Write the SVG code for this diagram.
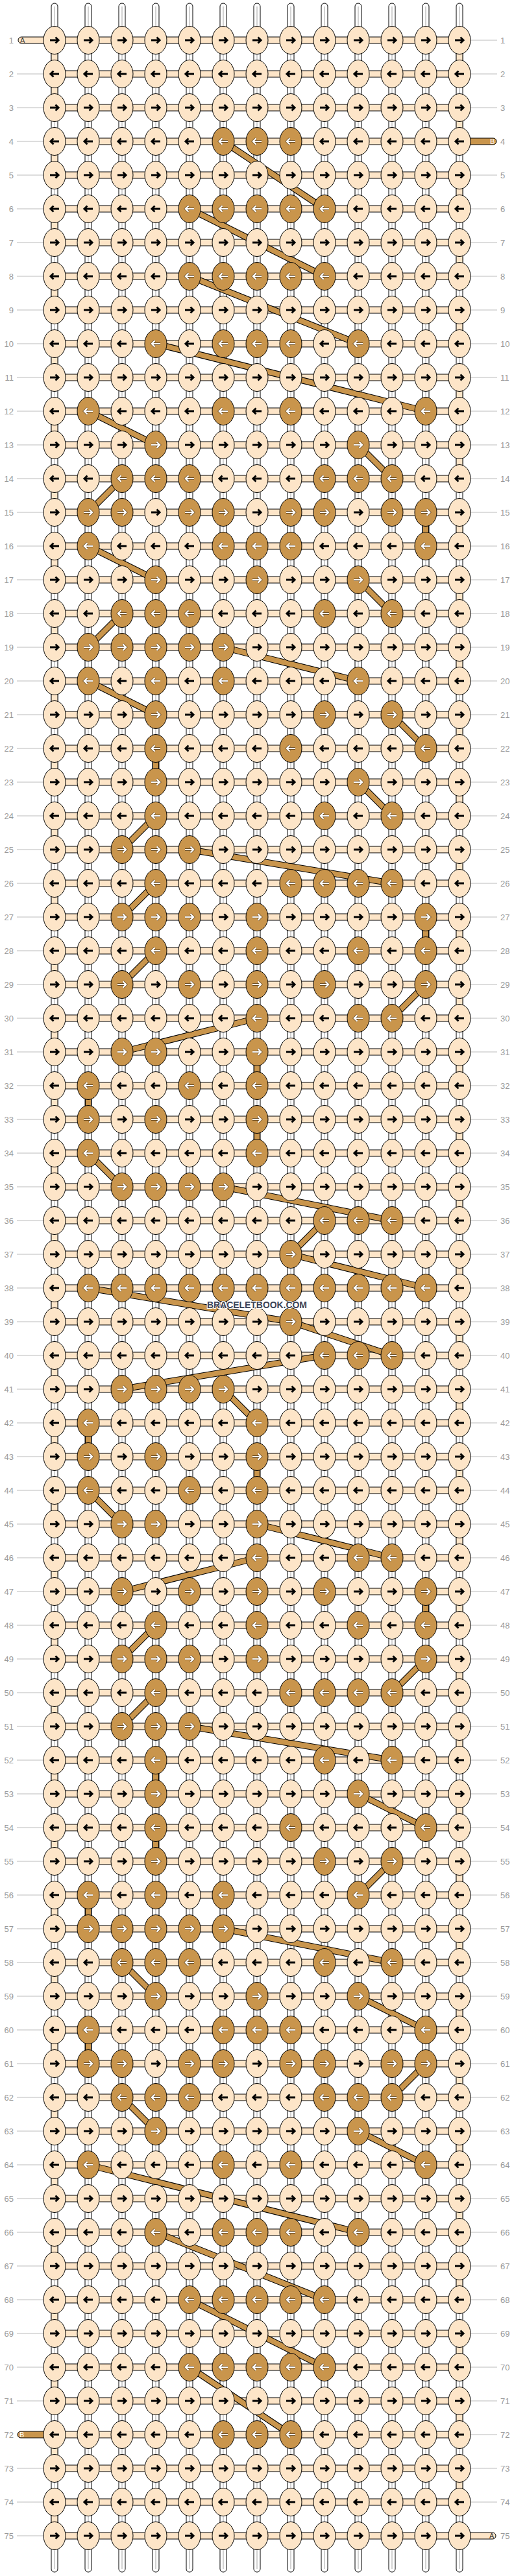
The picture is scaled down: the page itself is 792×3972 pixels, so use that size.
<svg xmlns="http://www.w3.org/2000/svg" xmlns:xlink="http://www.w3.org/1999/xlink" width="792" height="3972" viewBox="0 0 792 3972">
<style>
.L{fill:#fde5c8;stroke:#000;stroke-width:1}
.D{fill:#c9954c;stroke:#000;stroke-width:1}
.k{fill:none;stroke:#000;stroke-width:2.8}
.o{fill:none;stroke:#6e4f24;stroke-width:3.8}
.w{fill:none;stroke:#fff;stroke-width:2.2}
.g{fill:none;stroke:#bbb;stroke-width:1}
.st{fill:#fff;stroke:#000;stroke-width:1}
.sc{fill:none;stroke:#c4c4c4;stroke-width:1.5}
.pe{fill:#fde5c8;stroke:#000;stroke-width:1}
.tn{fill:#c9954c;stroke:#000;stroke-width:1}
.cb{fill:none;stroke:#000;stroke-width:10}
.ct{fill:none;stroke:#c9954c;stroke-width:8}
text{font-family:"Liberation Sans",Arial,sans-serif}
.le{font-size:13px;fill:#999;text-anchor:end}
.ls{font-size:13px;fill:#999}
.tl{font-size:11px}
</style>
<defs>
<g id="a"><ellipse class="L" rx="17" ry="21.5"/><path class="k" d="M-7,0H6M1.5,-4.6L6.2,0L1.5,4.6"/></g>
<g id="b"><ellipse class="L" rx="17" ry="21.5"/><path class="k" d="M7,0H-6M-1.5,-4.6L-6.2,0L-1.5,4.6"/></g>
<g id="c"><ellipse class="D" rx="17" ry="21.5"/><path class="o" d="M-7,0H6M1.5,-4.6L6.2,0L1.5,4.6"/><path class="w" d="M-7,0H6M1.5,-4.6L6.2,0L1.5,4.6"/></g>
<g id="d"><ellipse class="D" rx="17" ry="21.5"/><path class="o" d="M7,0H-6M-1.5,-4.6L-6.2,0L-1.5,4.6"/><path class="w" d="M7,0H-6M-1.5,-4.6L-6.2,0L-1.5,4.6"/></g>
<path id="cp" d="M344,218L500,322M292,322L500,426M292,426L552,530M240,530L656,634M136,634L240,686M552,686L604,738M188,738L136,790M656,790L656,842M136,842L240,894M552,894L604,946M188,946L136,998M344,998L552,1050M136,1050L240,1102M604,1102L656,1154M240,1154L240,1206M552,1206L604,1258M240,1258L188,1310M292,1310L604,1362M240,1362L188,1414M656,1414L656,1466M240,1466L188,1518M656,1518L604,1570M396,1570L188,1622M396,1622L396,1674M136,1674L136,1726M396,1726L396,1778M136,1778L188,1830M344,1830L604,1882M500,1882L448,1934M448,1934L656,1986M136,1986L448,2038M448,2038L604,2090M500,2090L188,2142M344,2142L396,2194M136,2194L136,2246M396,2246L396,2298M136,2298L188,2350M396,2350L604,2402M396,2402L188,2454M656,2454L656,2506M240,2506L188,2558M656,2558L604,2610M240,2610L188,2662M292,2662L604,2714M240,2714L240,2766M552,2766L656,2818M240,2818L240,2870M604,2870L552,2922M136,2922L136,2974M344,2974L604,3026M188,3026L240,3078M552,3078L656,3130M136,3130L136,3182M656,3182L604,3234M188,3234L240,3286M552,3286L656,3338M136,3338L552,3442M240,3442L500,3546M292,3546L500,3650M292,3650L448,3754"/>
</defs>
<rect width="792" height="3972" fill="#fff"/>
<g id="strands">
<rect class="st" x="79" y="5" width="10" height="3961" rx="5"/><rect class="st" x="131" y="5" width="10" height="3961" rx="5"/><rect class="st" x="183" y="5" width="10" height="3961" rx="5"/><rect class="st" x="235" y="5" width="10" height="3961" rx="5"/><rect class="st" x="287" y="5" width="10" height="3961" rx="5"/><rect class="st" x="339" y="5" width="10" height="3961" rx="5"/><rect class="st" x="391" y="5" width="10" height="3961" rx="5"/><rect class="st" x="443" y="5" width="10" height="3961" rx="5"/><rect class="st" x="495" y="5" width="10" height="3961" rx="5"/><rect class="st" x="547" y="5" width="10" height="3961" rx="5"/><rect class="st" x="599" y="5" width="10" height="3961" rx="5"/><rect class="st" x="651" y="5" width="10" height="3961" rx="5"/><rect class="st" x="703" y="5" width="10" height="3961" rx="5"/>
<path class="sc" d="M84,10V3961M136,10V3961M188,10V3961M240,10V3961M292,10V3961M344,10V3961M396,10V3961M448,10V3961M500,10V3961M552,10V3961M604,10V3961M656,10V3961M708,10V3961"/>
<path class="pe" d="M79,80h10v16h-10zM79,132h10v16h-10zM79,236h10v16h-10zM79,340h10v16h-10zM79,444h10v16h-10zM79,548h10v16h-10zM79,652h10v16h-10zM79,756h10v16h-10zM79,860h10v16h-10zM79,964h10v16h-10zM79,1068h10v16h-10zM79,1172h10v16h-10zM79,1276h10v16h-10zM79,1380h10v16h-10zM79,1484h10v16h-10zM79,1588h10v16h-10zM79,1692h10v16h-10zM79,1796h10v16h-10zM79,1900h10v16h-10zM79,2004h10v16h-10zM79,2108h10v16h-10zM79,2212h10v16h-10zM79,2316h10v16h-10zM79,2420h10v16h-10zM79,2524h10v16h-10zM79,2628h10v16h-10zM79,2732h10v16h-10zM79,2836h10v16h-10zM79,2940h10v16h-10zM79,3044h10v16h-10zM79,3148h10v16h-10zM79,3252h10v16h-10zM79,3356h10v16h-10zM79,3460h10v16h-10zM79,3564h10v16h-10zM79,3668h10v16h-10zM79,3772h10v16h-10zM79,3876h10v16h-10zM703,80h10v16h-10zM703,184h10v16h-10zM703,288h10v16h-10zM703,392h10v16h-10zM703,496h10v16h-10zM703,600h10v16h-10zM703,704h10v16h-10zM703,808h10v16h-10zM703,912h10v16h-10zM703,1016h10v16h-10zM703,1120h10v16h-10zM703,1224h10v16h-10zM703,1328h10v16h-10zM703,1432h10v16h-10zM703,1536h10v16h-10zM703,1640h10v16h-10zM703,1744h10v16h-10zM703,1848h10v16h-10zM703,1952h10v16h-10zM703,2056h10v16h-10zM703,2160h10v16h-10zM703,2264h10v16h-10zM703,2368h10v16h-10zM703,2472h10v16h-10zM703,2576h10v16h-10zM703,2680h10v16h-10zM703,2784h10v16h-10zM703,2888h10v16h-10zM703,2992h10v16h-10zM703,3096h10v16h-10zM703,3200h10v16h-10zM703,3304h10v16h-10zM703,3408h10v16h-10zM703,3512h10v16h-10zM703,3616h10v16h-10zM703,3720h10v16h-10zM703,3824h10v16h-10z"/>
<path class="pe" d="M84,57h624v10h-624zM84,109h624v10h-624zM84,161h624v10h-624zM84,213h624v10h-624zM84,265h624v10h-624zM84,317h624v10h-624zM84,369h624v10h-624zM84,421h624v10h-624zM84,473h624v10h-624zM84,525h624v10h-624zM84,577h624v10h-624zM84,629h624v10h-624zM84,681h624v10h-624zM84,733h624v10h-624zM84,785h624v10h-624zM84,837h624v10h-624zM84,889h624v10h-624zM84,941h624v10h-624zM84,993h624v10h-624zM84,1045h624v10h-624zM84,1097h624v10h-624zM84,1149h624v10h-624zM84,1201h624v10h-624zM84,1253h624v10h-624zM84,1305h624v10h-624zM84,1357h624v10h-624zM84,1409h624v10h-624zM84,1461h624v10h-624zM84,1513h624v10h-624zM84,1565h624v10h-624zM84,1617h624v10h-624zM84,1669h624v10h-624zM84,1721h624v10h-624zM84,1773h624v10h-624zM84,1825h624v10h-624zM84,1877h624v10h-624zM84,1929h624v10h-624zM84,1981h624v10h-624zM84,2033h624v10h-624zM84,2085h624v10h-624zM84,2137h624v10h-624zM84,2189h624v10h-624zM84,2241h624v10h-624zM84,2293h624v10h-624zM84,2345h624v10h-624zM84,2397h624v10h-624zM84,2449h624v10h-624zM84,2501h624v10h-624zM84,2553h624v10h-624zM84,2605h624v10h-624zM84,2657h624v10h-624zM84,2709h624v10h-624zM84,2761h624v10h-624zM84,2813h624v10h-624zM84,2865h624v10h-624zM84,2917h624v10h-624zM84,2969h624v10h-624zM84,3021h624v10h-624zM84,3073h624v10h-624zM84,3125h624v10h-624zM84,3177h624v10h-624zM84,3229h624v10h-624zM84,3281h624v10h-624zM84,3333h624v10h-624zM84,3385h624v10h-624zM84,3437h624v10h-624zM84,3489h624v10h-624zM84,3541h624v10h-624zM84,3593h624v10h-624zM84,3645h624v10h-624zM84,3697h624v10h-624zM84,3749h624v10h-624zM84,3801h624v10h-624zM84,3853h624v10h-624zM84,3905h624v10h-624z"/>
</g>
<g id="tails">
<rect class="pe" x="28" y="57" width="60" height="10" rx="5"/><text class="tl" x="31" y="66" fill="#333">A</text>
<rect class="tn" x="704" y="213" width="61" height="10" rx="5"/><text class="tl" x="755" y="222" fill="#fff">B</text>
<rect class="tn" x="27" y="3749" width="60" height="10" rx="5"/><text class="tl" x="30" y="3758" fill="#fff">B</text>
<rect class="pe" x="704" y="3905" width="60" height="10" rx="5"/><text class="tl" x="754" y="3914" fill="#333">A</text>
</g>
<g id="connectors"><use href="#cp" class="cb"/><use href="#cp" class="ct"/></g>
<g id="rows">
<g id="r1" transform="translate(0,62)"><path class="g" d="M725,0H766"/><text class="le" x="21" y="4.5">1</text><text class="ls" x="771" y="4.5">1</text><g id="n1-1"><use href="#a" x="84"/></g><g id="n1-2"><use href="#a" x="136"/></g><g id="n1-3"><use href="#a" x="188"/></g><g id="n1-4"><use href="#a" x="240"/></g><g id="n1-5"><use href="#a" x="292"/></g><g id="n1-6"><use href="#a" x="344"/></g><g id="n1-7"><use href="#a" x="396"/></g><g id="n1-8"><use href="#a" x="448"/></g><g id="n1-9"><use href="#a" x="500"/></g><g id="n1-10"><use href="#a" x="552"/></g><g id="n1-11"><use href="#a" x="604"/></g><g id="n1-12"><use href="#a" x="656"/></g><g id="n1-13"><use href="#a" x="708"/></g></g>
<g id="r2" transform="translate(0,114)"><path class="g" d="M26,0H67M725,0H766"/><text class="le" x="21" y="4.5">2</text><text class="ls" x="771" y="4.5">2</text><g id="n2-1"><use href="#b" x="84"/></g><g id="n2-2"><use href="#b" x="136"/></g><g id="n2-3"><use href="#b" x="188"/></g><g id="n2-4"><use href="#b" x="240"/></g><g id="n2-5"><use href="#b" x="292"/></g><g id="n2-6"><use href="#b" x="344"/></g><g id="n2-7"><use href="#b" x="396"/></g><g id="n2-8"><use href="#b" x="448"/></g><g id="n2-9"><use href="#b" x="500"/></g><g id="n2-10"><use href="#b" x="552"/></g><g id="n2-11"><use href="#b" x="604"/></g><g id="n2-12"><use href="#b" x="656"/></g><g id="n2-13"><use href="#b" x="708"/></g></g>
<g id="r3" transform="translate(0,166)"><path class="g" d="M26,0H67M725,0H766"/><text class="le" x="21" y="4.5">3</text><text class="ls" x="771" y="4.5">3</text><g id="n3-1"><use href="#a" x="84"/></g><g id="n3-2"><use href="#a" x="136"/></g><g id="n3-3"><use href="#a" x="188"/></g><g id="n3-4"><use href="#a" x="240"/></g><g id="n3-5"><use href="#a" x="292"/></g><g id="n3-6"><use href="#a" x="344"/></g><g id="n3-7"><use href="#a" x="396"/></g><g id="n3-8"><use href="#a" x="448"/></g><g id="n3-9"><use href="#a" x="500"/></g><g id="n3-10"><use href="#a" x="552"/></g><g id="n3-11"><use href="#a" x="604"/></g><g id="n3-12"><use href="#a" x="656"/></g><g id="n3-13"><use href="#a" x="708"/></g></g>
<g id="r4" transform="translate(0,218)"><path class="g" d="M26,0H67"/><text class="le" x="21" y="4.5">4</text><text class="ls" x="771" y="4.5">4</text><g id="n4-1"><use href="#b" x="84"/></g><g id="n4-2"><use href="#b" x="136"/></g><g id="n4-3"><use href="#b" x="188"/></g><g id="n4-4"><use href="#b" x="240"/></g><g id="n4-5"><use href="#b" x="292"/></g><g id="n4-6"><use href="#d" x="344"/></g><g id="n4-7"><use href="#d" x="396"/></g><g id="n4-8"><use href="#d" x="448"/></g><g id="n4-9"><use href="#b" x="500"/></g><g id="n4-10"><use href="#b" x="552"/></g><g id="n4-11"><use href="#b" x="604"/></g><g id="n4-12"><use href="#b" x="656"/></g><g id="n4-13"><use href="#b" x="708"/></g></g>
<g id="r5" transform="translate(0,270)"><path class="g" d="M26,0H67M725,0H766"/><text class="le" x="21" y="4.5">5</text><text class="ls" x="771" y="4.5">5</text><g id="n5-1"><use href="#a" x="84"/></g><g id="n5-2"><use href="#a" x="136"/></g><g id="n5-3"><use href="#a" x="188"/></g><g id="n5-4"><use href="#a" x="240"/></g><g id="n5-5"><use href="#a" x="292"/></g><g id="n5-6"><use href="#a" x="344"/></g><g id="n5-7"><use href="#a" x="396"/></g><g id="n5-8"><use href="#a" x="448"/></g><g id="n5-9"><use href="#a" x="500"/></g><g id="n5-10"><use href="#a" x="552"/></g><g id="n5-11"><use href="#a" x="604"/></g><g id="n5-12"><use href="#a" x="656"/></g><g id="n5-13"><use href="#a" x="708"/></g></g>
<g id="r6" transform="translate(0,322)"><path class="g" d="M26,0H67M725,0H766"/><text class="le" x="21" y="4.5">6</text><text class="ls" x="771" y="4.5">6</text><g id="n6-1"><use href="#b" x="84"/></g><g id="n6-2"><use href="#b" x="136"/></g><g id="n6-3"><use href="#b" x="188"/></g><g id="n6-4"><use href="#b" x="240"/></g><g id="n6-5"><use href="#d" x="292"/></g><g id="n6-6"><use href="#d" x="344"/></g><g id="n6-7"><use href="#d" x="396"/></g><g id="n6-8"><use href="#d" x="448"/></g><g id="n6-9"><use href="#d" x="500"/></g><g id="n6-10"><use href="#b" x="552"/></g><g id="n6-11"><use href="#b" x="604"/></g><g id="n6-12"><use href="#b" x="656"/></g><g id="n6-13"><use href="#b" x="708"/></g></g>
<g id="r7" transform="translate(0,374)"><path class="g" d="M26,0H67M725,0H766"/><text class="le" x="21" y="4.5">7</text><text class="ls" x="771" y="4.5">7</text><g id="n7-1"><use href="#a" x="84"/></g><g id="n7-2"><use href="#a" x="136"/></g><g id="n7-3"><use href="#a" x="188"/></g><g id="n7-4"><use href="#a" x="240"/></g><g id="n7-5"><use href="#a" x="292"/></g><g id="n7-6"><use href="#a" x="344"/></g><g id="n7-7"><use href="#a" x="396"/></g><g id="n7-8"><use href="#a" x="448"/></g><g id="n7-9"><use href="#a" x="500"/></g><g id="n7-10"><use href="#a" x="552"/></g><g id="n7-11"><use href="#a" x="604"/></g><g id="n7-12"><use href="#a" x="656"/></g><g id="n7-13"><use href="#a" x="708"/></g></g>
<g id="r8" transform="translate(0,426)"><path class="g" d="M26,0H67M725,0H766"/><text class="le" x="21" y="4.5">8</text><text class="ls" x="771" y="4.5">8</text><g id="n8-1"><use href="#b" x="84"/></g><g id="n8-2"><use href="#b" x="136"/></g><g id="n8-3"><use href="#b" x="188"/></g><g id="n8-4"><use href="#b" x="240"/></g><g id="n8-5"><use href="#d" x="292"/></g><g id="n8-6"><use href="#d" x="344"/></g><g id="n8-7"><use href="#d" x="396"/></g><g id="n8-8"><use href="#d" x="448"/></g><g id="n8-9"><use href="#d" x="500"/></g><g id="n8-10"><use href="#b" x="552"/></g><g id="n8-11"><use href="#b" x="604"/></g><g id="n8-12"><use href="#b" x="656"/></g><g id="n8-13"><use href="#b" x="708"/></g></g>
<g id="r9" transform="translate(0,478)"><path class="g" d="M26,0H67M725,0H766"/><text class="le" x="21" y="4.5">9</text><text class="ls" x="771" y="4.5">9</text><g id="n9-1"><use href="#a" x="84"/></g><g id="n9-2"><use href="#a" x="136"/></g><g id="n9-3"><use href="#a" x="188"/></g><g id="n9-4"><use href="#a" x="240"/></g><g id="n9-5"><use href="#a" x="292"/></g><g id="n9-6"><use href="#a" x="344"/></g><g id="n9-7"><use href="#a" x="396"/></g><g id="n9-8"><use href="#a" x="448"/></g><g id="n9-9"><use href="#a" x="500"/></g><g id="n9-10"><use href="#a" x="552"/></g><g id="n9-11"><use href="#a" x="604"/></g><g id="n9-12"><use href="#a" x="656"/></g><g id="n9-13"><use href="#a" x="708"/></g></g>
<g id="r10" transform="translate(0,530)"><path class="g" d="M26,0H67M725,0H766"/><text class="le" x="21" y="4.5">10</text><text class="ls" x="771" y="4.5">10</text><g id="n10-1"><use href="#b" x="84"/></g><g id="n10-2"><use href="#b" x="136"/></g><g id="n10-3"><use href="#b" x="188"/></g><g id="n10-4"><use href="#d" x="240"/></g><g id="n10-5"><use href="#b" x="292"/></g><g id="n10-6"><use href="#d" x="344"/></g><g id="n10-7"><use href="#d" x="396"/></g><g id="n10-8"><use href="#d" x="448"/></g><g id="n10-9"><use href="#b" x="500"/></g><g id="n10-10"><use href="#d" x="552"/></g><g id="n10-11"><use href="#b" x="604"/></g><g id="n10-12"><use href="#b" x="656"/></g><g id="n10-13"><use href="#b" x="708"/></g></g>
<g id="r11" transform="translate(0,582)"><path class="g" d="M26,0H67M725,0H766"/><text class="le" x="21" y="4.5">11</text><text class="ls" x="771" y="4.5">11</text><g id="n11-1"><use href="#a" x="84"/></g><g id="n11-2"><use href="#a" x="136"/></g><g id="n11-3"><use href="#a" x="188"/></g><g id="n11-4"><use href="#a" x="240"/></g><g id="n11-5"><use href="#a" x="292"/></g><g id="n11-6"><use href="#a" x="344"/></g><g id="n11-7"><use href="#a" x="396"/></g><g id="n11-8"><use href="#a" x="448"/></g><g id="n11-9"><use href="#a" x="500"/></g><g id="n11-10"><use href="#a" x="552"/></g><g id="n11-11"><use href="#a" x="604"/></g><g id="n11-12"><use href="#a" x="656"/></g><g id="n11-13"><use href="#a" x="708"/></g></g>
<g id="r12" transform="translate(0,634)"><path class="g" d="M26,0H67M725,0H766"/><text class="le" x="21" y="4.5">12</text><text class="ls" x="771" y="4.5">12</text><g id="n12-1"><use href="#b" x="84"/></g><g id="n12-2"><use href="#d" x="136"/></g><g id="n12-3"><use href="#b" x="188"/></g><g id="n12-4"><use href="#b" x="240"/></g><g id="n12-5"><use href="#b" x="292"/></g><g id="n12-6"><use href="#d" x="344"/></g><g id="n12-7"><use href="#b" x="396"/></g><g id="n12-8"><use href="#d" x="448"/></g><g id="n12-9"><use href="#b" x="500"/></g><g id="n12-10"><use href="#b" x="552"/></g><g id="n12-11"><use href="#b" x="604"/></g><g id="n12-12"><use href="#d" x="656"/></g><g id="n12-13"><use href="#b" x="708"/></g></g>
<g id="r13" transform="translate(0,686)"><path class="g" d="M26,0H67M725,0H766"/><text class="le" x="21" y="4.5">13</text><text class="ls" x="771" y="4.5">13</text><g id="n13-1"><use href="#a" x="84"/></g><g id="n13-2"><use href="#a" x="136"/></g><g id="n13-3"><use href="#a" x="188"/></g><g id="n13-4"><use href="#c" x="240"/></g><g id="n13-5"><use href="#a" x="292"/></g><g id="n13-6"><use href="#a" x="344"/></g><g id="n13-7"><use href="#a" x="396"/></g><g id="n13-8"><use href="#a" x="448"/></g><g id="n13-9"><use href="#a" x="500"/></g><g id="n13-10"><use href="#c" x="552"/></g><g id="n13-11"><use href="#a" x="604"/></g><g id="n13-12"><use href="#a" x="656"/></g><g id="n13-13"><use href="#a" x="708"/></g></g>
<g id="r14" transform="translate(0,738)"><path class="g" d="M26,0H67M725,0H766"/><text class="le" x="21" y="4.5">14</text><text class="ls" x="771" y="4.5">14</text><g id="n14-1"><use href="#b" x="84"/></g><g id="n14-2"><use href="#b" x="136"/></g><g id="n14-3"><use href="#d" x="188"/></g><g id="n14-4"><use href="#d" x="240"/></g><g id="n14-5"><use href="#d" x="292"/></g><g id="n14-6"><use href="#b" x="344"/></g><g id="n14-7"><use href="#b" x="396"/></g><g id="n14-8"><use href="#b" x="448"/></g><g id="n14-9"><use href="#d" x="500"/></g><g id="n14-10"><use href="#d" x="552"/></g><g id="n14-11"><use href="#d" x="604"/></g><g id="n14-12"><use href="#b" x="656"/></g><g id="n14-13"><use href="#b" x="708"/></g></g>
<g id="r15" transform="translate(0,790)"><path class="g" d="M26,0H67M725,0H766"/><text class="le" x="21" y="4.5">15</text><text class="ls" x="771" y="4.5">15</text><g id="n15-1"><use href="#a" x="84"/></g><g id="n15-2"><use href="#c" x="136"/></g><g id="n15-3"><use href="#c" x="188"/></g><g id="n15-4"><use href="#a" x="240"/></g><g id="n15-5"><use href="#c" x="292"/></g><g id="n15-6"><use href="#c" x="344"/></g><g id="n15-7"><use href="#a" x="396"/></g><g id="n15-8"><use href="#c" x="448"/></g><g id="n15-9"><use href="#c" x="500"/></g><g id="n15-10"><use href="#a" x="552"/></g><g id="n15-11"><use href="#c" x="604"/></g><g id="n15-12"><use href="#c" x="656"/></g><g id="n15-13"><use href="#a" x="708"/></g></g>
<g id="r16" transform="translate(0,842)"><path class="g" d="M26,0H67M725,0H766"/><text class="le" x="21" y="4.5">16</text><text class="ls" x="771" y="4.5">16</text><g id="n16-1"><use href="#b" x="84"/></g><g id="n16-2"><use href="#d" x="136"/></g><g id="n16-3"><use href="#b" x="188"/></g><g id="n16-4"><use href="#b" x="240"/></g><g id="n16-5"><use href="#b" x="292"/></g><g id="n16-6"><use href="#d" x="344"/></g><g id="n16-7"><use href="#d" x="396"/></g><g id="n16-8"><use href="#d" x="448"/></g><g id="n16-9"><use href="#b" x="500"/></g><g id="n16-10"><use href="#b" x="552"/></g><g id="n16-11"><use href="#b" x="604"/></g><g id="n16-12"><use href="#d" x="656"/></g><g id="n16-13"><use href="#b" x="708"/></g></g>
<g id="r17" transform="translate(0,894)"><path class="g" d="M26,0H67M725,0H766"/><text class="le" x="21" y="4.5">17</text><text class="ls" x="771" y="4.5">17</text><g id="n17-1"><use href="#a" x="84"/></g><g id="n17-2"><use href="#a" x="136"/></g><g id="n17-3"><use href="#a" x="188"/></g><g id="n17-4"><use href="#c" x="240"/></g><g id="n17-5"><use href="#a" x="292"/></g><g id="n17-6"><use href="#a" x="344"/></g><g id="n17-7"><use href="#c" x="396"/></g><g id="n17-8"><use href="#a" x="448"/></g><g id="n17-9"><use href="#a" x="500"/></g><g id="n17-10"><use href="#c" x="552"/></g><g id="n17-11"><use href="#a" x="604"/></g><g id="n17-12"><use href="#a" x="656"/></g><g id="n17-13"><use href="#a" x="708"/></g></g>
<g id="r18" transform="translate(0,946)"><path class="g" d="M26,0H67M725,0H766"/><text class="le" x="21" y="4.5">18</text><text class="ls" x="771" y="4.5">18</text><g id="n18-1"><use href="#b" x="84"/></g><g id="n18-2"><use href="#b" x="136"/></g><g id="n18-3"><use href="#d" x="188"/></g><g id="n18-4"><use href="#d" x="240"/></g><g id="n18-5"><use href="#d" x="292"/></g><g id="n18-6"><use href="#b" x="344"/></g><g id="n18-7"><use href="#b" x="396"/></g><g id="n18-8"><use href="#b" x="448"/></g><g id="n18-9"><use href="#d" x="500"/></g><g id="n18-10"><use href="#b" x="552"/></g><g id="n18-11"><use href="#d" x="604"/></g><g id="n18-12"><use href="#b" x="656"/></g><g id="n18-13"><use href="#b" x="708"/></g></g>
<g id="r19" transform="translate(0,998)"><path class="g" d="M26,0H67M725,0H766"/><text class="le" x="21" y="4.5">19</text><text class="ls" x="771" y="4.5">19</text><g id="n19-1"><use href="#a" x="84"/></g><g id="n19-2"><use href="#c" x="136"/></g><g id="n19-3"><use href="#c" x="188"/></g><g id="n19-4"><use href="#c" x="240"/></g><g id="n19-5"><use href="#c" x="292"/></g><g id="n19-6"><use href="#c" x="344"/></g><g id="n19-7"><use href="#a" x="396"/></g><g id="n19-8"><use href="#a" x="448"/></g><g id="n19-9"><use href="#a" x="500"/></g><g id="n19-10"><use href="#a" x="552"/></g><g id="n19-11"><use href="#a" x="604"/></g><g id="n19-12"><use href="#a" x="656"/></g><g id="n19-13"><use href="#a" x="708"/></g></g>
<g id="r20" transform="translate(0,1050)"><path class="g" d="M26,0H67M725,0H766"/><text class="le" x="21" y="4.5">20</text><text class="ls" x="771" y="4.5">20</text><g id="n20-1"><use href="#b" x="84"/></g><g id="n20-2"><use href="#d" x="136"/></g><g id="n20-3"><use href="#b" x="188"/></g><g id="n20-4"><use href="#d" x="240"/></g><g id="n20-5"><use href="#b" x="292"/></g><g id="n20-6"><use href="#d" x="344"/></g><g id="n20-7"><use href="#b" x="396"/></g><g id="n20-8"><use href="#b" x="448"/></g><g id="n20-9"><use href="#b" x="500"/></g><g id="n20-10"><use href="#d" x="552"/></g><g id="n20-11"><use href="#b" x="604"/></g><g id="n20-12"><use href="#b" x="656"/></g><g id="n20-13"><use href="#b" x="708"/></g></g>
<g id="r21" transform="translate(0,1102)"><path class="g" d="M26,0H67M725,0H766"/><text class="le" x="21" y="4.5">21</text><text class="ls" x="771" y="4.5">21</text><g id="n21-1"><use href="#a" x="84"/></g><g id="n21-2"><use href="#a" x="136"/></g><g id="n21-3"><use href="#a" x="188"/></g><g id="n21-4"><use href="#c" x="240"/></g><g id="n21-5"><use href="#a" x="292"/></g><g id="n21-6"><use href="#a" x="344"/></g><g id="n21-7"><use href="#a" x="396"/></g><g id="n21-8"><use href="#a" x="448"/></g><g id="n21-9"><use href="#c" x="500"/></g><g id="n21-10"><use href="#a" x="552"/></g><g id="n21-11"><use href="#c" x="604"/></g><g id="n21-12"><use href="#a" x="656"/></g><g id="n21-13"><use href="#a" x="708"/></g></g>
<g id="r22" transform="translate(0,1154)"><path class="g" d="M26,0H67M725,0H766"/><text class="le" x="21" y="4.5">22</text><text class="ls" x="771" y="4.5">22</text><g id="n22-1"><use href="#b" x="84"/></g><g id="n22-2"><use href="#b" x="136"/></g><g id="n22-3"><use href="#b" x="188"/></g><g id="n22-4"><use href="#d" x="240"/></g><g id="n22-5"><use href="#b" x="292"/></g><g id="n22-6"><use href="#b" x="344"/></g><g id="n22-7"><use href="#b" x="396"/></g><g id="n22-8"><use href="#d" x="448"/></g><g id="n22-9"><use href="#b" x="500"/></g><g id="n22-10"><use href="#b" x="552"/></g><g id="n22-11"><use href="#b" x="604"/></g><g id="n22-12"><use href="#d" x="656"/></g><g id="n22-13"><use href="#b" x="708"/></g></g>
<g id="r23" transform="translate(0,1206)"><path class="g" d="M26,0H67M725,0H766"/><text class="le" x="21" y="4.5">23</text><text class="ls" x="771" y="4.5">23</text><g id="n23-1"><use href="#a" x="84"/></g><g id="n23-2"><use href="#a" x="136"/></g><g id="n23-3"><use href="#a" x="188"/></g><g id="n23-4"><use href="#c" x="240"/></g><g id="n23-5"><use href="#a" x="292"/></g><g id="n23-6"><use href="#a" x="344"/></g><g id="n23-7"><use href="#a" x="396"/></g><g id="n23-8"><use href="#a" x="448"/></g><g id="n23-9"><use href="#a" x="500"/></g><g id="n23-10"><use href="#c" x="552"/></g><g id="n23-11"><use href="#a" x="604"/></g><g id="n23-12"><use href="#a" x="656"/></g><g id="n23-13"><use href="#a" x="708"/></g></g>
<g id="r24" transform="translate(0,1258)"><path class="g" d="M26,0H67M725,0H766"/><text class="le" x="21" y="4.5">24</text><text class="ls" x="771" y="4.5">24</text><g id="n24-1"><use href="#b" x="84"/></g><g id="n24-2"><use href="#b" x="136"/></g><g id="n24-3"><use href="#b" x="188"/></g><g id="n24-4"><use href="#d" x="240"/></g><g id="n24-5"><use href="#b" x="292"/></g><g id="n24-6"><use href="#b" x="344"/></g><g id="n24-7"><use href="#b" x="396"/></g><g id="n24-8"><use href="#b" x="448"/></g><g id="n24-9"><use href="#d" x="500"/></g><g id="n24-10"><use href="#b" x="552"/></g><g id="n24-11"><use href="#d" x="604"/></g><g id="n24-12"><use href="#b" x="656"/></g><g id="n24-13"><use href="#b" x="708"/></g></g>
<g id="r25" transform="translate(0,1310)"><path class="g" d="M26,0H67M725,0H766"/><text class="le" x="21" y="4.5">25</text><text class="ls" x="771" y="4.5">25</text><g id="n25-1"><use href="#a" x="84"/></g><g id="n25-2"><use href="#a" x="136"/></g><g id="n25-3"><use href="#c" x="188"/></g><g id="n25-4"><use href="#c" x="240"/></g><g id="n25-5"><use href="#c" x="292"/></g><g id="n25-6"><use href="#a" x="344"/></g><g id="n25-7"><use href="#a" x="396"/></g><g id="n25-8"><use href="#a" x="448"/></g><g id="n25-9"><use href="#a" x="500"/></g><g id="n25-10"><use href="#a" x="552"/></g><g id="n25-11"><use href="#a" x="604"/></g><g id="n25-12"><use href="#a" x="656"/></g><g id="n25-13"><use href="#a" x="708"/></g></g>
<g id="r26" transform="translate(0,1362)"><path class="g" d="M26,0H67M725,0H766"/><text class="le" x="21" y="4.5">26</text><text class="ls" x="771" y="4.5">26</text><g id="n26-1"><use href="#b" x="84"/></g><g id="n26-2"><use href="#b" x="136"/></g><g id="n26-3"><use href="#b" x="188"/></g><g id="n26-4"><use href="#d" x="240"/></g><g id="n26-5"><use href="#b" x="292"/></g><g id="n26-6"><use href="#b" x="344"/></g><g id="n26-7"><use href="#b" x="396"/></g><g id="n26-8"><use href="#d" x="448"/></g><g id="n26-9"><use href="#d" x="500"/></g><g id="n26-10"><use href="#d" x="552"/></g><g id="n26-11"><use href="#d" x="604"/></g><g id="n26-12"><use href="#b" x="656"/></g><g id="n26-13"><use href="#b" x="708"/></g></g>
<g id="r27" transform="translate(0,1414)"><path class="g" d="M26,0H67M725,0H766"/><text class="le" x="21" y="4.5">27</text><text class="ls" x="771" y="4.5">27</text><g id="n27-1"><use href="#a" x="84"/></g><g id="n27-2"><use href="#a" x="136"/></g><g id="n27-3"><use href="#c" x="188"/></g><g id="n27-4"><use href="#c" x="240"/></g><g id="n27-5"><use href="#c" x="292"/></g><g id="n27-6"><use href="#a" x="344"/></g><g id="n27-7"><use href="#c" x="396"/></g><g id="n27-8"><use href="#a" x="448"/></g><g id="n27-9"><use href="#a" x="500"/></g><g id="n27-10"><use href="#a" x="552"/></g><g id="n27-11"><use href="#a" x="604"/></g><g id="n27-12"><use href="#c" x="656"/></g><g id="n27-13"><use href="#a" x="708"/></g></g>
<g id="r28" transform="translate(0,1466)"><path class="g" d="M26,0H67M725,0H766"/><text class="le" x="21" y="4.5">28</text><text class="ls" x="771" y="4.5">28</text><g id="n28-1"><use href="#b" x="84"/></g><g id="n28-2"><use href="#b" x="136"/></g><g id="n28-3"><use href="#b" x="188"/></g><g id="n28-4"><use href="#d" x="240"/></g><g id="n28-5"><use href="#b" x="292"/></g><g id="n28-6"><use href="#b" x="344"/></g><g id="n28-7"><use href="#d" x="396"/></g><g id="n28-8"><use href="#b" x="448"/></g><g id="n28-9"><use href="#b" x="500"/></g><g id="n28-10"><use href="#d" x="552"/></g><g id="n28-11"><use href="#b" x="604"/></g><g id="n28-12"><use href="#d" x="656"/></g><g id="n28-13"><use href="#b" x="708"/></g></g>
<g id="r29" transform="translate(0,1518)"><path class="g" d="M26,0H67M725,0H766"/><text class="le" x="21" y="4.5">29</text><text class="ls" x="771" y="4.5">29</text><g id="n29-1"><use href="#a" x="84"/></g><g id="n29-2"><use href="#a" x="136"/></g><g id="n29-3"><use href="#c" x="188"/></g><g id="n29-4"><use href="#a" x="240"/></g><g id="n29-5"><use href="#c" x="292"/></g><g id="n29-6"><use href="#a" x="344"/></g><g id="n29-7"><use href="#c" x="396"/></g><g id="n29-8"><use href="#a" x="448"/></g><g id="n29-9"><use href="#c" x="500"/></g><g id="n29-10"><use href="#a" x="552"/></g><g id="n29-11"><use href="#a" x="604"/></g><g id="n29-12"><use href="#c" x="656"/></g><g id="n29-13"><use href="#a" x="708"/></g></g>
<g id="r30" transform="translate(0,1570)"><path class="g" d="M26,0H67M725,0H766"/><text class="le" x="21" y="4.5">30</text><text class="ls" x="771" y="4.5">30</text><g id="n30-1"><use href="#b" x="84"/></g><g id="n30-2"><use href="#b" x="136"/></g><g id="n30-3"><use href="#b" x="188"/></g><g id="n30-4"><use href="#b" x="240"/></g><g id="n30-5"><use href="#b" x="292"/></g><g id="n30-6"><use href="#b" x="344"/></g><g id="n30-7"><use href="#d" x="396"/></g><g id="n30-8"><use href="#b" x="448"/></g><g id="n30-9"><use href="#b" x="500"/></g><g id="n30-10"><use href="#d" x="552"/></g><g id="n30-11"><use href="#d" x="604"/></g><g id="n30-12"><use href="#b" x="656"/></g><g id="n30-13"><use href="#b" x="708"/></g></g>
<g id="r31" transform="translate(0,1622)"><path class="g" d="M26,0H67M725,0H766"/><text class="le" x="21" y="4.5">31</text><text class="ls" x="771" y="4.5">31</text><g id="n31-1"><use href="#a" x="84"/></g><g id="n31-2"><use href="#a" x="136"/></g><g id="n31-3"><use href="#c" x="188"/></g><g id="n31-4"><use href="#c" x="240"/></g><g id="n31-5"><use href="#a" x="292"/></g><g id="n31-6"><use href="#a" x="344"/></g><g id="n31-7"><use href="#c" x="396"/></g><g id="n31-8"><use href="#a" x="448"/></g><g id="n31-9"><use href="#a" x="500"/></g><g id="n31-10"><use href="#a" x="552"/></g><g id="n31-11"><use href="#a" x="604"/></g><g id="n31-12"><use href="#a" x="656"/></g><g id="n31-13"><use href="#a" x="708"/></g></g>
<g id="r32" transform="translate(0,1674)"><path class="g" d="M26,0H67M725,0H766"/><text class="le" x="21" y="4.5">32</text><text class="ls" x="771" y="4.5">32</text><g id="n32-1"><use href="#b" x="84"/></g><g id="n32-2"><use href="#d" x="136"/></g><g id="n32-3"><use href="#b" x="188"/></g><g id="n32-4"><use href="#b" x="240"/></g><g id="n32-5"><use href="#d" x="292"/></g><g id="n32-6"><use href="#b" x="344"/></g><g id="n32-7"><use href="#d" x="396"/></g><g id="n32-8"><use href="#b" x="448"/></g><g id="n32-9"><use href="#b" x="500"/></g><g id="n32-10"><use href="#b" x="552"/></g><g id="n32-11"><use href="#b" x="604"/></g><g id="n32-12"><use href="#b" x="656"/></g><g id="n32-13"><use href="#b" x="708"/></g></g>
<g id="r33" transform="translate(0,1726)"><path class="g" d="M26,0H67M725,0H766"/><text class="le" x="21" y="4.5">33</text><text class="ls" x="771" y="4.5">33</text><g id="n33-1"><use href="#a" x="84"/></g><g id="n33-2"><use href="#c" x="136"/></g><g id="n33-3"><use href="#a" x="188"/></g><g id="n33-4"><use href="#c" x="240"/></g><g id="n33-5"><use href="#a" x="292"/></g><g id="n33-6"><use href="#a" x="344"/></g><g id="n33-7"><use href="#c" x="396"/></g><g id="n33-8"><use href="#a" x="448"/></g><g id="n33-9"><use href="#a" x="500"/></g><g id="n33-10"><use href="#a" x="552"/></g><g id="n33-11"><use href="#a" x="604"/></g><g id="n33-12"><use href="#a" x="656"/></g><g id="n33-13"><use href="#a" x="708"/></g></g>
<g id="r34" transform="translate(0,1778)"><path class="g" d="M26,0H67M725,0H766"/><text class="le" x="21" y="4.5">34</text><text class="ls" x="771" y="4.5">34</text><g id="n34-1"><use href="#b" x="84"/></g><g id="n34-2"><use href="#d" x="136"/></g><g id="n34-3"><use href="#b" x="188"/></g><g id="n34-4"><use href="#b" x="240"/></g><g id="n34-5"><use href="#b" x="292"/></g><g id="n34-6"><use href="#b" x="344"/></g><g id="n34-7"><use href="#d" x="396"/></g><g id="n34-8"><use href="#b" x="448"/></g><g id="n34-9"><use href="#b" x="500"/></g><g id="n34-10"><use href="#b" x="552"/></g><g id="n34-11"><use href="#b" x="604"/></g><g id="n34-12"><use href="#b" x="656"/></g><g id="n34-13"><use href="#b" x="708"/></g></g>
<g id="r35" transform="translate(0,1830)"><path class="g" d="M26,0H67M725,0H766"/><text class="le" x="21" y="4.5">35</text><text class="ls" x="771" y="4.5">35</text><g id="n35-1"><use href="#a" x="84"/></g><g id="n35-2"><use href="#a" x="136"/></g><g id="n35-3"><use href="#c" x="188"/></g><g id="n35-4"><use href="#c" x="240"/></g><g id="n35-5"><use href="#c" x="292"/></g><g id="n35-6"><use href="#c" x="344"/></g><g id="n35-7"><use href="#a" x="396"/></g><g id="n35-8"><use href="#a" x="448"/></g><g id="n35-9"><use href="#a" x="500"/></g><g id="n35-10"><use href="#a" x="552"/></g><g id="n35-11"><use href="#a" x="604"/></g><g id="n35-12"><use href="#a" x="656"/></g><g id="n35-13"><use href="#a" x="708"/></g></g>
<g id="r36" transform="translate(0,1882)"><path class="g" d="M26,0H67M725,0H766"/><text class="le" x="21" y="4.5">36</text><text class="ls" x="771" y="4.5">36</text><g id="n36-1"><use href="#b" x="84"/></g><g id="n36-2"><use href="#b" x="136"/></g><g id="n36-3"><use href="#b" x="188"/></g><g id="n36-4"><use href="#b" x="240"/></g><g id="n36-5"><use href="#b" x="292"/></g><g id="n36-6"><use href="#b" x="344"/></g><g id="n36-7"><use href="#b" x="396"/></g><g id="n36-8"><use href="#b" x="448"/></g><g id="n36-9"><use href="#d" x="500"/></g><g id="n36-10"><use href="#d" x="552"/></g><g id="n36-11"><use href="#d" x="604"/></g><g id="n36-12"><use href="#b" x="656"/></g><g id="n36-13"><use href="#b" x="708"/></g></g>
<g id="r37" transform="translate(0,1934)"><path class="g" d="M26,0H67M725,0H766"/><text class="le" x="21" y="4.5">37</text><text class="ls" x="771" y="4.5">37</text><g id="n37-1"><use href="#a" x="84"/></g><g id="n37-2"><use href="#a" x="136"/></g><g id="n37-3"><use href="#a" x="188"/></g><g id="n37-4"><use href="#a" x="240"/></g><g id="n37-5"><use href="#a" x="292"/></g><g id="n37-6"><use href="#a" x="344"/></g><g id="n37-7"><use href="#a" x="396"/></g><g id="n37-8"><use href="#c" x="448"/></g><g id="n37-9"><use href="#a" x="500"/></g><g id="n37-10"><use href="#a" x="552"/></g><g id="n37-11"><use href="#a" x="604"/></g><g id="n37-12"><use href="#a" x="656"/></g><g id="n37-13"><use href="#a" x="708"/></g></g>
<g id="r38" transform="translate(0,1986)"><path class="g" d="M26,0H67M725,0H766"/><text class="le" x="21" y="4.5">38</text><text class="ls" x="771" y="4.5">38</text><g id="n38-1"><use href="#b" x="84"/></g><g id="n38-2"><use href="#d" x="136"/></g><g id="n38-3"><use href="#d" x="188"/></g><g id="n38-4"><use href="#d" x="240"/></g><g id="n38-5"><use href="#d" x="292"/></g><g id="n38-6"><use href="#d" x="344"/></g><g id="n38-7"><use href="#d" x="396"/></g><g id="n38-8"><use href="#d" x="448"/></g><g id="n38-9"><use href="#d" x="500"/></g><g id="n38-10"><use href="#d" x="552"/></g><g id="n38-11"><use href="#d" x="604"/></g><g id="n38-12"><use href="#d" x="656"/></g><g id="n38-13"><use href="#b" x="708"/></g></g>
<g id="r39" transform="translate(0,2038)"><path class="g" d="M26,0H67M725,0H766"/><text class="le" x="21" y="4.5">39</text><text class="ls" x="771" y="4.5">39</text><g id="n39-1"><use href="#a" x="84"/></g><g id="n39-2"><use href="#a" x="136"/></g><g id="n39-3"><use href="#a" x="188"/></g><g id="n39-4"><use href="#a" x="240"/></g><g id="n39-5"><use href="#a" x="292"/></g><g id="n39-6"><use href="#a" x="344"/></g><g id="n39-7"><use href="#a" x="396"/></g><g id="n39-8"><use href="#c" x="448"/></g><g id="n39-9"><use href="#a" x="500"/></g><g id="n39-10"><use href="#a" x="552"/></g><g id="n39-11"><use href="#a" x="604"/></g><g id="n39-12"><use href="#a" x="656"/></g><g id="n39-13"><use href="#a" x="708"/></g></g>
<g id="r40" transform="translate(0,2090)"><path class="g" d="M26,0H67M725,0H766"/><text class="le" x="21" y="4.5">40</text><text class="ls" x="771" y="4.5">40</text><g id="n40-1"><use href="#b" x="84"/></g><g id="n40-2"><use href="#b" x="136"/></g><g id="n40-3"><use href="#b" x="188"/></g><g id="n40-4"><use href="#b" x="240"/></g><g id="n40-5"><use href="#b" x="292"/></g><g id="n40-6"><use href="#b" x="344"/></g><g id="n40-7"><use href="#b" x="396"/></g><g id="n40-8"><use href="#b" x="448"/></g><g id="n40-9"><use href="#d" x="500"/></g><g id="n40-10"><use href="#d" x="552"/></g><g id="n40-11"><use href="#d" x="604"/></g><g id="n40-12"><use href="#b" x="656"/></g><g id="n40-13"><use href="#b" x="708"/></g></g>
<g id="r41" transform="translate(0,2142)"><path class="g" d="M26,0H67M725,0H766"/><text class="le" x="21" y="4.5">41</text><text class="ls" x="771" y="4.5">41</text><g id="n41-1"><use href="#a" x="84"/></g><g id="n41-2"><use href="#a" x="136"/></g><g id="n41-3"><use href="#c" x="188"/></g><g id="n41-4"><use href="#c" x="240"/></g><g id="n41-5"><use href="#c" x="292"/></g><g id="n41-6"><use href="#c" x="344"/></g><g id="n41-7"><use href="#a" x="396"/></g><g id="n41-8"><use href="#a" x="448"/></g><g id="n41-9"><use href="#a" x="500"/></g><g id="n41-10"><use href="#a" x="552"/></g><g id="n41-11"><use href="#a" x="604"/></g><g id="n41-12"><use href="#a" x="656"/></g><g id="n41-13"><use href="#a" x="708"/></g></g>
<g id="r42" transform="translate(0,2194)"><path class="g" d="M26,0H67M725,0H766"/><text class="le" x="21" y="4.5">42</text><text class="ls" x="771" y="4.5">42</text><g id="n42-1"><use href="#b" x="84"/></g><g id="n42-2"><use href="#d" x="136"/></g><g id="n42-3"><use href="#b" x="188"/></g><g id="n42-4"><use href="#b" x="240"/></g><g id="n42-5"><use href="#b" x="292"/></g><g id="n42-6"><use href="#b" x="344"/></g><g id="n42-7"><use href="#d" x="396"/></g><g id="n42-8"><use href="#b" x="448"/></g><g id="n42-9"><use href="#b" x="500"/></g><g id="n42-10"><use href="#b" x="552"/></g><g id="n42-11"><use href="#b" x="604"/></g><g id="n42-12"><use href="#b" x="656"/></g><g id="n42-13"><use href="#b" x="708"/></g></g>
<g id="r43" transform="translate(0,2246)"><path class="g" d="M26,0H67M725,0H766"/><text class="le" x="21" y="4.5">43</text><text class="ls" x="771" y="4.5">43</text><g id="n43-1"><use href="#a" x="84"/></g><g id="n43-2"><use href="#c" x="136"/></g><g id="n43-3"><use href="#a" x="188"/></g><g id="n43-4"><use href="#c" x="240"/></g><g id="n43-5"><use href="#a" x="292"/></g><g id="n43-6"><use href="#a" x="344"/></g><g id="n43-7"><use href="#c" x="396"/></g><g id="n43-8"><use href="#a" x="448"/></g><g id="n43-9"><use href="#a" x="500"/></g><g id="n43-10"><use href="#a" x="552"/></g><g id="n43-11"><use href="#a" x="604"/></g><g id="n43-12"><use href="#a" x="656"/></g><g id="n43-13"><use href="#a" x="708"/></g></g>
<g id="r44" transform="translate(0,2298)"><path class="g" d="M26,0H67M725,0H766"/><text class="le" x="21" y="4.5">44</text><text class="ls" x="771" y="4.5">44</text><g id="n44-1"><use href="#b" x="84"/></g><g id="n44-2"><use href="#d" x="136"/></g><g id="n44-3"><use href="#b" x="188"/></g><g id="n44-4"><use href="#b" x="240"/></g><g id="n44-5"><use href="#d" x="292"/></g><g id="n44-6"><use href="#b" x="344"/></g><g id="n44-7"><use href="#d" x="396"/></g><g id="n44-8"><use href="#b" x="448"/></g><g id="n44-9"><use href="#b" x="500"/></g><g id="n44-10"><use href="#b" x="552"/></g><g id="n44-11"><use href="#b" x="604"/></g><g id="n44-12"><use href="#b" x="656"/></g><g id="n44-13"><use href="#b" x="708"/></g></g>
<g id="r45" transform="translate(0,2350)"><path class="g" d="M26,0H67M725,0H766"/><text class="le" x="21" y="4.5">45</text><text class="ls" x="771" y="4.5">45</text><g id="n45-1"><use href="#a" x="84"/></g><g id="n45-2"><use href="#a" x="136"/></g><g id="n45-3"><use href="#c" x="188"/></g><g id="n45-4"><use href="#c" x="240"/></g><g id="n45-5"><use href="#a" x="292"/></g><g id="n45-6"><use href="#a" x="344"/></g><g id="n45-7"><use href="#c" x="396"/></g><g id="n45-8"><use href="#a" x="448"/></g><g id="n45-9"><use href="#a" x="500"/></g><g id="n45-10"><use href="#a" x="552"/></g><g id="n45-11"><use href="#a" x="604"/></g><g id="n45-12"><use href="#a" x="656"/></g><g id="n45-13"><use href="#a" x="708"/></g></g>
<g id="r46" transform="translate(0,2402)"><path class="g" d="M26,0H67M725,0H766"/><text class="le" x="21" y="4.5">46</text><text class="ls" x="771" y="4.5">46</text><g id="n46-1"><use href="#b" x="84"/></g><g id="n46-2"><use href="#b" x="136"/></g><g id="n46-3"><use href="#b" x="188"/></g><g id="n46-4"><use href="#b" x="240"/></g><g id="n46-5"><use href="#b" x="292"/></g><g id="n46-6"><use href="#b" x="344"/></g><g id="n46-7"><use href="#d" x="396"/></g><g id="n46-8"><use href="#b" x="448"/></g><g id="n46-9"><use href="#b" x="500"/></g><g id="n46-10"><use href="#d" x="552"/></g><g id="n46-11"><use href="#d" x="604"/></g><g id="n46-12"><use href="#b" x="656"/></g><g id="n46-13"><use href="#b" x="708"/></g></g>
<g id="r47" transform="translate(0,2454)"><path class="g" d="M26,0H67M725,0H766"/><text class="le" x="21" y="4.5">47</text><text class="ls" x="771" y="4.5">47</text><g id="n47-1"><use href="#a" x="84"/></g><g id="n47-2"><use href="#a" x="136"/></g><g id="n47-3"><use href="#c" x="188"/></g><g id="n47-4"><use href="#a" x="240"/></g><g id="n47-5"><use href="#c" x="292"/></g><g id="n47-6"><use href="#a" x="344"/></g><g id="n47-7"><use href="#c" x="396"/></g><g id="n47-8"><use href="#a" x="448"/></g><g id="n47-9"><use href="#c" x="500"/></g><g id="n47-10"><use href="#a" x="552"/></g><g id="n47-11"><use href="#a" x="604"/></g><g id="n47-12"><use href="#c" x="656"/></g><g id="n47-13"><use href="#a" x="708"/></g></g>
<g id="r48" transform="translate(0,2506)"><path class="g" d="M26,0H67M725,0H766"/><text class="le" x="21" y="4.5">48</text><text class="ls" x="771" y="4.5">48</text><g id="n48-1"><use href="#b" x="84"/></g><g id="n48-2"><use href="#b" x="136"/></g><g id="n48-3"><use href="#b" x="188"/></g><g id="n48-4"><use href="#d" x="240"/></g><g id="n48-5"><use href="#b" x="292"/></g><g id="n48-6"><use href="#b" x="344"/></g><g id="n48-7"><use href="#d" x="396"/></g><g id="n48-8"><use href="#b" x="448"/></g><g id="n48-9"><use href="#b" x="500"/></g><g id="n48-10"><use href="#d" x="552"/></g><g id="n48-11"><use href="#b" x="604"/></g><g id="n48-12"><use href="#d" x="656"/></g><g id="n48-13"><use href="#b" x="708"/></g></g>
<g id="r49" transform="translate(0,2558)"><path class="g" d="M26,0H67M725,0H766"/><text class="le" x="21" y="4.5">49</text><text class="ls" x="771" y="4.5">49</text><g id="n49-1"><use href="#a" x="84"/></g><g id="n49-2"><use href="#a" x="136"/></g><g id="n49-3"><use href="#c" x="188"/></g><g id="n49-4"><use href="#c" x="240"/></g><g id="n49-5"><use href="#c" x="292"/></g><g id="n49-6"><use href="#a" x="344"/></g><g id="n49-7"><use href="#c" x="396"/></g><g id="n49-8"><use href="#a" x="448"/></g><g id="n49-9"><use href="#a" x="500"/></g><g id="n49-10"><use href="#a" x="552"/></g><g id="n49-11"><use href="#a" x="604"/></g><g id="n49-12"><use href="#c" x="656"/></g><g id="n49-13"><use href="#a" x="708"/></g></g>
<g id="r50" transform="translate(0,2610)"><path class="g" d="M26,0H67M725,0H766"/><text class="le" x="21" y="4.5">50</text><text class="ls" x="771" y="4.5">50</text><g id="n50-1"><use href="#b" x="84"/></g><g id="n50-2"><use href="#b" x="136"/></g><g id="n50-3"><use href="#b" x="188"/></g><g id="n50-4"><use href="#d" x="240"/></g><g id="n50-5"><use href="#b" x="292"/></g><g id="n50-6"><use href="#b" x="344"/></g><g id="n50-7"><use href="#b" x="396"/></g><g id="n50-8"><use href="#d" x="448"/></g><g id="n50-9"><use href="#d" x="500"/></g><g id="n50-10"><use href="#d" x="552"/></g><g id="n50-11"><use href="#d" x="604"/></g><g id="n50-12"><use href="#b" x="656"/></g><g id="n50-13"><use href="#b" x="708"/></g></g>
<g id="r51" transform="translate(0,2662)"><path class="g" d="M26,0H67M725,0H766"/><text class="le" x="21" y="4.5">51</text><text class="ls" x="771" y="4.5">51</text><g id="n51-1"><use href="#a" x="84"/></g><g id="n51-2"><use href="#a" x="136"/></g><g id="n51-3"><use href="#c" x="188"/></g><g id="n51-4"><use href="#c" x="240"/></g><g id="n51-5"><use href="#c" x="292"/></g><g id="n51-6"><use href="#a" x="344"/></g><g id="n51-7"><use href="#a" x="396"/></g><g id="n51-8"><use href="#a" x="448"/></g><g id="n51-9"><use href="#a" x="500"/></g><g id="n51-10"><use href="#a" x="552"/></g><g id="n51-11"><use href="#a" x="604"/></g><g id="n51-12"><use href="#a" x="656"/></g><g id="n51-13"><use href="#a" x="708"/></g></g>
<g id="r52" transform="translate(0,2714)"><path class="g" d="M26,0H67M725,0H766"/><text class="le" x="21" y="4.5">52</text><text class="ls" x="771" y="4.5">52</text><g id="n52-1"><use href="#b" x="84"/></g><g id="n52-2"><use href="#b" x="136"/></g><g id="n52-3"><use href="#b" x="188"/></g><g id="n52-4"><use href="#d" x="240"/></g><g id="n52-5"><use href="#b" x="292"/></g><g id="n52-6"><use href="#b" x="344"/></g><g id="n52-7"><use href="#b" x="396"/></g><g id="n52-8"><use href="#b" x="448"/></g><g id="n52-9"><use href="#d" x="500"/></g><g id="n52-10"><use href="#b" x="552"/></g><g id="n52-11"><use href="#d" x="604"/></g><g id="n52-12"><use href="#b" x="656"/></g><g id="n52-13"><use href="#b" x="708"/></g></g>
<g id="r53" transform="translate(0,2766)"><path class="g" d="M26,0H67M725,0H766"/><text class="le" x="21" y="4.5">53</text><text class="ls" x="771" y="4.5">53</text><g id="n53-1"><use href="#a" x="84"/></g><g id="n53-2"><use href="#a" x="136"/></g><g id="n53-3"><use href="#a" x="188"/></g><g id="n53-4"><use href="#c" x="240"/></g><g id="n53-5"><use href="#a" x="292"/></g><g id="n53-6"><use href="#a" x="344"/></g><g id="n53-7"><use href="#a" x="396"/></g><g id="n53-8"><use href="#a" x="448"/></g><g id="n53-9"><use href="#a" x="500"/></g><g id="n53-10"><use href="#c" x="552"/></g><g id="n53-11"><use href="#a" x="604"/></g><g id="n53-12"><use href="#a" x="656"/></g><g id="n53-13"><use href="#a" x="708"/></g></g>
<g id="r54" transform="translate(0,2818)"><path class="g" d="M26,0H67M725,0H766"/><text class="le" x="21" y="4.5">54</text><text class="ls" x="771" y="4.5">54</text><g id="n54-1"><use href="#b" x="84"/></g><g id="n54-2"><use href="#b" x="136"/></g><g id="n54-3"><use href="#b" x="188"/></g><g id="n54-4"><use href="#d" x="240"/></g><g id="n54-5"><use href="#b" x="292"/></g><g id="n54-6"><use href="#b" x="344"/></g><g id="n54-7"><use href="#b" x="396"/></g><g id="n54-8"><use href="#d" x="448"/></g><g id="n54-9"><use href="#b" x="500"/></g><g id="n54-10"><use href="#b" x="552"/></g><g id="n54-11"><use href="#b" x="604"/></g><g id="n54-12"><use href="#d" x="656"/></g><g id="n54-13"><use href="#b" x="708"/></g></g>
<g id="r55" transform="translate(0,2870)"><path class="g" d="M26,0H67M725,0H766"/><text class="le" x="21" y="4.5">55</text><text class="ls" x="771" y="4.5">55</text><g id="n55-1"><use href="#a" x="84"/></g><g id="n55-2"><use href="#a" x="136"/></g><g id="n55-3"><use href="#a" x="188"/></g><g id="n55-4"><use href="#c" x="240"/></g><g id="n55-5"><use href="#a" x="292"/></g><g id="n55-6"><use href="#a" x="344"/></g><g id="n55-7"><use href="#a" x="396"/></g><g id="n55-8"><use href="#a" x="448"/></g><g id="n55-9"><use href="#c" x="500"/></g><g id="n55-10"><use href="#a" x="552"/></g><g id="n55-11"><use href="#c" x="604"/></g><g id="n55-12"><use href="#a" x="656"/></g><g id="n55-13"><use href="#a" x="708"/></g></g>
<g id="r56" transform="translate(0,2922)"><path class="g" d="M26,0H67M725,0H766"/><text class="le" x="21" y="4.5">56</text><text class="ls" x="771" y="4.5">56</text><g id="n56-1"><use href="#b" x="84"/></g><g id="n56-2"><use href="#d" x="136"/></g><g id="n56-3"><use href="#b" x="188"/></g><g id="n56-4"><use href="#d" x="240"/></g><g id="n56-5"><use href="#b" x="292"/></g><g id="n56-6"><use href="#d" x="344"/></g><g id="n56-7"><use href="#b" x="396"/></g><g id="n56-8"><use href="#b" x="448"/></g><g id="n56-9"><use href="#b" x="500"/></g><g id="n56-10"><use href="#d" x="552"/></g><g id="n56-11"><use href="#b" x="604"/></g><g id="n56-12"><use href="#b" x="656"/></g><g id="n56-13"><use href="#b" x="708"/></g></g>
<g id="r57" transform="translate(0,2974)"><path class="g" d="M26,0H67M725,0H766"/><text class="le" x="21" y="4.5">57</text><text class="ls" x="771" y="4.5">57</text><g id="n57-1"><use href="#a" x="84"/></g><g id="n57-2"><use href="#c" x="136"/></g><g id="n57-3"><use href="#c" x="188"/></g><g id="n57-4"><use href="#c" x="240"/></g><g id="n57-5"><use href="#c" x="292"/></g><g id="n57-6"><use href="#c" x="344"/></g><g id="n57-7"><use href="#a" x="396"/></g><g id="n57-8"><use href="#a" x="448"/></g><g id="n57-9"><use href="#a" x="500"/></g><g id="n57-10"><use href="#a" x="552"/></g><g id="n57-11"><use href="#a" x="604"/></g><g id="n57-12"><use href="#a" x="656"/></g><g id="n57-13"><use href="#a" x="708"/></g></g>
<g id="r58" transform="translate(0,3026)"><path class="g" d="M26,0H67M725,0H766"/><text class="le" x="21" y="4.5">58</text><text class="ls" x="771" y="4.5">58</text><g id="n58-1"><use href="#b" x="84"/></g><g id="n58-2"><use href="#b" x="136"/></g><g id="n58-3"><use href="#d" x="188"/></g><g id="n58-4"><use href="#d" x="240"/></g><g id="n58-5"><use href="#d" x="292"/></g><g id="n58-6"><use href="#b" x="344"/></g><g id="n58-7"><use href="#b" x="396"/></g><g id="n58-8"><use href="#b" x="448"/></g><g id="n58-9"><use href="#d" x="500"/></g><g id="n58-10"><use href="#b" x="552"/></g><g id="n58-11"><use href="#d" x="604"/></g><g id="n58-12"><use href="#b" x="656"/></g><g id="n58-13"><use href="#b" x="708"/></g></g>
<g id="r59" transform="translate(0,3078)"><path class="g" d="M26,0H67M725,0H766"/><text class="le" x="21" y="4.5">59</text><text class="ls" x="771" y="4.5">59</text><g id="n59-1"><use href="#a" x="84"/></g><g id="n59-2"><use href="#a" x="136"/></g><g id="n59-3"><use href="#a" x="188"/></g><g id="n59-4"><use href="#c" x="240"/></g><g id="n59-5"><use href="#a" x="292"/></g><g id="n59-6"><use href="#a" x="344"/></g><g id="n59-7"><use href="#c" x="396"/></g><g id="n59-8"><use href="#a" x="448"/></g><g id="n59-9"><use href="#a" x="500"/></g><g id="n59-10"><use href="#c" x="552"/></g><g id="n59-11"><use href="#a" x="604"/></g><g id="n59-12"><use href="#a" x="656"/></g><g id="n59-13"><use href="#a" x="708"/></g></g>
<g id="r60" transform="translate(0,3130)"><path class="g" d="M26,0H67M725,0H766"/><text class="le" x="21" y="4.5">60</text><text class="ls" x="771" y="4.5">60</text><g id="n60-1"><use href="#b" x="84"/></g><g id="n60-2"><use href="#d" x="136"/></g><g id="n60-3"><use href="#b" x="188"/></g><g id="n60-4"><use href="#b" x="240"/></g><g id="n60-5"><use href="#b" x="292"/></g><g id="n60-6"><use href="#d" x="344"/></g><g id="n60-7"><use href="#d" x="396"/></g><g id="n60-8"><use href="#d" x="448"/></g><g id="n60-9"><use href="#b" x="500"/></g><g id="n60-10"><use href="#b" x="552"/></g><g id="n60-11"><use href="#b" x="604"/></g><g id="n60-12"><use href="#d" x="656"/></g><g id="n60-13"><use href="#b" x="708"/></g></g>
<g id="r61" transform="translate(0,3182)"><path class="g" d="M26,0H67M725,0H766"/><text class="le" x="21" y="4.5">61</text><text class="ls" x="771" y="4.5">61</text><g id="n61-1"><use href="#a" x="84"/></g><g id="n61-2"><use href="#c" x="136"/></g><g id="n61-3"><use href="#c" x="188"/></g><g id="n61-4"><use href="#a" x="240"/></g><g id="n61-5"><use href="#c" x="292"/></g><g id="n61-6"><use href="#c" x="344"/></g><g id="n61-7"><use href="#a" x="396"/></g><g id="n61-8"><use href="#c" x="448"/></g><g id="n61-9"><use href="#c" x="500"/></g><g id="n61-10"><use href="#a" x="552"/></g><g id="n61-11"><use href="#c" x="604"/></g><g id="n61-12"><use href="#c" x="656"/></g><g id="n61-13"><use href="#a" x="708"/></g></g>
<g id="r62" transform="translate(0,3234)"><path class="g" d="M26,0H67M725,0H766"/><text class="le" x="21" y="4.5">62</text><text class="ls" x="771" y="4.5">62</text><g id="n62-1"><use href="#b" x="84"/></g><g id="n62-2"><use href="#b" x="136"/></g><g id="n62-3"><use href="#d" x="188"/></g><g id="n62-4"><use href="#d" x="240"/></g><g id="n62-5"><use href="#d" x="292"/></g><g id="n62-6"><use href="#b" x="344"/></g><g id="n62-7"><use href="#b" x="396"/></g><g id="n62-8"><use href="#b" x="448"/></g><g id="n62-9"><use href="#d" x="500"/></g><g id="n62-10"><use href="#d" x="552"/></g><g id="n62-11"><use href="#d" x="604"/></g><g id="n62-12"><use href="#b" x="656"/></g><g id="n62-13"><use href="#b" x="708"/></g></g>
<g id="r63" transform="translate(0,3286)"><path class="g" d="M26,0H67M725,0H766"/><text class="le" x="21" y="4.5">63</text><text class="ls" x="771" y="4.5">63</text><g id="n63-1"><use href="#a" x="84"/></g><g id="n63-2"><use href="#a" x="136"/></g><g id="n63-3"><use href="#a" x="188"/></g><g id="n63-4"><use href="#c" x="240"/></g><g id="n63-5"><use href="#a" x="292"/></g><g id="n63-6"><use href="#a" x="344"/></g><g id="n63-7"><use href="#a" x="396"/></g><g id="n63-8"><use href="#a" x="448"/></g><g id="n63-9"><use href="#a" x="500"/></g><g id="n63-10"><use href="#c" x="552"/></g><g id="n63-11"><use href="#a" x="604"/></g><g id="n63-12"><use href="#a" x="656"/></g><g id="n63-13"><use href="#a" x="708"/></g></g>
<g id="r64" transform="translate(0,3338)"><path class="g" d="M26,0H67M725,0H766"/><text class="le" x="21" y="4.5">64</text><text class="ls" x="771" y="4.5">64</text><g id="n64-1"><use href="#b" x="84"/></g><g id="n64-2"><use href="#d" x="136"/></g><g id="n64-3"><use href="#b" x="188"/></g><g id="n64-4"><use href="#b" x="240"/></g><g id="n64-5"><use href="#b" x="292"/></g><g id="n64-6"><use href="#d" x="344"/></g><g id="n64-7"><use href="#b" x="396"/></g><g id="n64-8"><use href="#d" x="448"/></g><g id="n64-9"><use href="#b" x="500"/></g><g id="n64-10"><use href="#b" x="552"/></g><g id="n64-11"><use href="#b" x="604"/></g><g id="n64-12"><use href="#d" x="656"/></g><g id="n64-13"><use href="#b" x="708"/></g></g>
<g id="r65" transform="translate(0,3390)"><path class="g" d="M26,0H67M725,0H766"/><text class="le" x="21" y="4.5">65</text><text class="ls" x="771" y="4.5">65</text><g id="n65-1"><use href="#a" x="84"/></g><g id="n65-2"><use href="#a" x="136"/></g><g id="n65-3"><use href="#a" x="188"/></g><g id="n65-4"><use href="#a" x="240"/></g><g id="n65-5"><use href="#a" x="292"/></g><g id="n65-6"><use href="#a" x="344"/></g><g id="n65-7"><use href="#a" x="396"/></g><g id="n65-8"><use href="#a" x="448"/></g><g id="n65-9"><use href="#a" x="500"/></g><g id="n65-10"><use href="#a" x="552"/></g><g id="n65-11"><use href="#a" x="604"/></g><g id="n65-12"><use href="#a" x="656"/></g><g id="n65-13"><use href="#a" x="708"/></g></g>
<g id="r66" transform="translate(0,3442)"><path class="g" d="M26,0H67M725,0H766"/><text class="le" x="21" y="4.5">66</text><text class="ls" x="771" y="4.5">66</text><g id="n66-1"><use href="#b" x="84"/></g><g id="n66-2"><use href="#b" x="136"/></g><g id="n66-3"><use href="#b" x="188"/></g><g id="n66-4"><use href="#d" x="240"/></g><g id="n66-5"><use href="#b" x="292"/></g><g id="n66-6"><use href="#d" x="344"/></g><g id="n66-7"><use href="#d" x="396"/></g><g id="n66-8"><use href="#d" x="448"/></g><g id="n66-9"><use href="#b" x="500"/></g><g id="n66-10"><use href="#d" x="552"/></g><g id="n66-11"><use href="#b" x="604"/></g><g id="n66-12"><use href="#b" x="656"/></g><g id="n66-13"><use href="#b" x="708"/></g></g>
<g id="r67" transform="translate(0,3494)"><path class="g" d="M26,0H67M725,0H766"/><text class="le" x="21" y="4.5">67</text><text class="ls" x="771" y="4.5">67</text><g id="n67-1"><use href="#a" x="84"/></g><g id="n67-2"><use href="#a" x="136"/></g><g id="n67-3"><use href="#a" x="188"/></g><g id="n67-4"><use href="#a" x="240"/></g><g id="n67-5"><use href="#a" x="292"/></g><g id="n67-6"><use href="#a" x="344"/></g><g id="n67-7"><use href="#a" x="396"/></g><g id="n67-8"><use href="#a" x="448"/></g><g id="n67-9"><use href="#a" x="500"/></g><g id="n67-10"><use href="#a" x="552"/></g><g id="n67-11"><use href="#a" x="604"/></g><g id="n67-12"><use href="#a" x="656"/></g><g id="n67-13"><use href="#a" x="708"/></g></g>
<g id="r68" transform="translate(0,3546)"><path class="g" d="M26,0H67M725,0H766"/><text class="le" x="21" y="4.5">68</text><text class="ls" x="771" y="4.5">68</text><g id="n68-1"><use href="#b" x="84"/></g><g id="n68-2"><use href="#b" x="136"/></g><g id="n68-3"><use href="#b" x="188"/></g><g id="n68-4"><use href="#b" x="240"/></g><g id="n68-5"><use href="#d" x="292"/></g><g id="n68-6"><use href="#d" x="344"/></g><g id="n68-7"><use href="#d" x="396"/></g><g id="n68-8"><use href="#d" x="448"/></g><g id="n68-9"><use href="#d" x="500"/></g><g id="n68-10"><use href="#b" x="552"/></g><g id="n68-11"><use href="#b" x="604"/></g><g id="n68-12"><use href="#b" x="656"/></g><g id="n68-13"><use href="#b" x="708"/></g></g>
<g id="r69" transform="translate(0,3598)"><path class="g" d="M26,0H67M725,0H766"/><text class="le" x="21" y="4.5">69</text><text class="ls" x="771" y="4.5">69</text><g id="n69-1"><use href="#a" x="84"/></g><g id="n69-2"><use href="#a" x="136"/></g><g id="n69-3"><use href="#a" x="188"/></g><g id="n69-4"><use href="#a" x="240"/></g><g id="n69-5"><use href="#a" x="292"/></g><g id="n69-6"><use href="#a" x="344"/></g><g id="n69-7"><use href="#a" x="396"/></g><g id="n69-8"><use href="#a" x="448"/></g><g id="n69-9"><use href="#a" x="500"/></g><g id="n69-10"><use href="#a" x="552"/></g><g id="n69-11"><use href="#a" x="604"/></g><g id="n69-12"><use href="#a" x="656"/></g><g id="n69-13"><use href="#a" x="708"/></g></g>
<g id="r70" transform="translate(0,3650)"><path class="g" d="M26,0H67M725,0H766"/><text class="le" x="21" y="4.5">70</text><text class="ls" x="771" y="4.5">70</text><g id="n70-1"><use href="#b" x="84"/></g><g id="n70-2"><use href="#b" x="136"/></g><g id="n70-3"><use href="#b" x="188"/></g><g id="n70-4"><use href="#b" x="240"/></g><g id="n70-5"><use href="#d" x="292"/></g><g id="n70-6"><use href="#d" x="344"/></g><g id="n70-7"><use href="#d" x="396"/></g><g id="n70-8"><use href="#d" x="448"/></g><g id="n70-9"><use href="#d" x="500"/></g><g id="n70-10"><use href="#b" x="552"/></g><g id="n70-11"><use href="#b" x="604"/></g><g id="n70-12"><use href="#b" x="656"/></g><g id="n70-13"><use href="#b" x="708"/></g></g>
<g id="r71" transform="translate(0,3702)"><path class="g" d="M26,0H67M725,0H766"/><text class="le" x="21" y="4.5">71</text><text class="ls" x="771" y="4.5">71</text><g id="n71-1"><use href="#a" x="84"/></g><g id="n71-2"><use href="#a" x="136"/></g><g id="n71-3"><use href="#a" x="188"/></g><g id="n71-4"><use href="#a" x="240"/></g><g id="n71-5"><use href="#a" x="292"/></g><g id="n71-6"><use href="#a" x="344"/></g><g id="n71-7"><use href="#a" x="396"/></g><g id="n71-8"><use href="#a" x="448"/></g><g id="n71-9"><use href="#a" x="500"/></g><g id="n71-10"><use href="#a" x="552"/></g><g id="n71-11"><use href="#a" x="604"/></g><g id="n71-12"><use href="#a" x="656"/></g><g id="n71-13"><use href="#a" x="708"/></g></g>
<g id="r72" transform="translate(0,3754)"><path class="g" d="M725,0H766"/><text class="le" x="21" y="4.5">72</text><text class="ls" x="771" y="4.5">72</text><g id="n72-1"><use href="#b" x="84"/></g><g id="n72-2"><use href="#b" x="136"/></g><g id="n72-3"><use href="#b" x="188"/></g><g id="n72-4"><use href="#b" x="240"/></g><g id="n72-5"><use href="#b" x="292"/></g><g id="n72-6"><use href="#d" x="344"/></g><g id="n72-7"><use href="#d" x="396"/></g><g id="n72-8"><use href="#d" x="448"/></g><g id="n72-9"><use href="#b" x="500"/></g><g id="n72-10"><use href="#b" x="552"/></g><g id="n72-11"><use href="#b" x="604"/></g><g id="n72-12"><use href="#b" x="656"/></g><g id="n72-13"><use href="#b" x="708"/></g></g>
<g id="r73" transform="translate(0,3806)"><path class="g" d="M26,0H67M725,0H766"/><text class="le" x="21" y="4.5">73</text><text class="ls" x="771" y="4.5">73</text><g id="n73-1"><use href="#a" x="84"/></g><g id="n73-2"><use href="#a" x="136"/></g><g id="n73-3"><use href="#a" x="188"/></g><g id="n73-4"><use href="#a" x="240"/></g><g id="n73-5"><use href="#a" x="292"/></g><g id="n73-6"><use href="#a" x="344"/></g><g id="n73-7"><use href="#a" x="396"/></g><g id="n73-8"><use href="#a" x="448"/></g><g id="n73-9"><use href="#a" x="500"/></g><g id="n73-10"><use href="#a" x="552"/></g><g id="n73-11"><use href="#a" x="604"/></g><g id="n73-12"><use href="#a" x="656"/></g><g id="n73-13"><use href="#a" x="708"/></g></g>
<g id="r74" transform="translate(0,3858)"><path class="g" d="M26,0H67M725,0H766"/><text class="le" x="21" y="4.5">74</text><text class="ls" x="771" y="4.5">74</text><g id="n74-1"><use href="#b" x="84"/></g><g id="n74-2"><use href="#b" x="136"/></g><g id="n74-3"><use href="#b" x="188"/></g><g id="n74-4"><use href="#b" x="240"/></g><g id="n74-5"><use href="#b" x="292"/></g><g id="n74-6"><use href="#b" x="344"/></g><g id="n74-7"><use href="#b" x="396"/></g><g id="n74-8"><use href="#b" x="448"/></g><g id="n74-9"><use href="#b" x="500"/></g><g id="n74-10"><use href="#b" x="552"/></g><g id="n74-11"><use href="#b" x="604"/></g><g id="n74-12"><use href="#b" x="656"/></g><g id="n74-13"><use href="#b" x="708"/></g></g>
<g id="r75" transform="translate(0,3910)"><path class="g" d="M26,0H67"/><text class="le" x="21" y="4.5">75</text><text class="ls" x="771" y="4.5">75</text><g id="n75-1"><use href="#a" x="84"/></g><g id="n75-2"><use href="#a" x="136"/></g><g id="n75-3"><use href="#a" x="188"/></g><g id="n75-4"><use href="#a" x="240"/></g><g id="n75-5"><use href="#a" x="292"/></g><g id="n75-6"><use href="#a" x="344"/></g><g id="n75-7"><use href="#a" x="396"/></g><g id="n75-8"><use href="#a" x="448"/></g><g id="n75-9"><use href="#a" x="500"/></g><g id="n75-10"><use href="#a" x="552"/></g><g id="n75-11"><use href="#a" x="604"/></g><g id="n75-12"><use href="#a" x="656"/></g><g id="n75-13"><use href="#a" x="708"/></g></g>
</g>
<text x="396" y="2017" text-anchor="middle" font-size="14" font-weight="bold" fill="#3a4256" stroke="#fff" stroke-width="2" paint-order="stroke" textLength="154">BRACELETBOOK.COM</text>
</svg>
